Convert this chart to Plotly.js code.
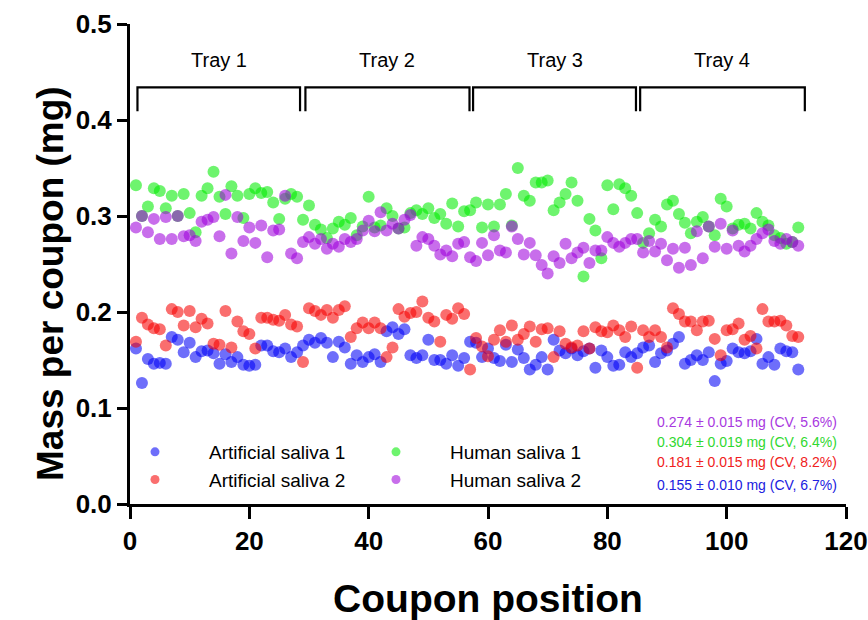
<!DOCTYPE html>
<html><head><meta charset="utf-8">
<script src="https://cdn.plot.ly/plotly-3.0.1.min.js"></script>
<style>html,body{margin:0;padding:0;background:#fff}#chart{width:868px;height:620px}</style>
</head><body><div id="chart"></div>
<script>
const position = [1,2,3,4,5,6,7,8,9,10,11,12,13,14,15,16,17,18,19,20,21,22,23,24,25,26,27,28,
29,30,31,32,33,34,35,36,37,38,39,40,41,42,43,44,45,46,47,48,49,50,51,52,53,54,55,56,
57,58,59,60,61,62,63,64,65,66,67,68,69,70,71,72,73,74,75,76,77,78,79,80,81,82,83,84,
85,86,87,88,89,90,91,92,93,94,95,96,97,98,99,100,101,102,103,104,105,106,107,108,109,110,111,112];

const artificialSaliva1 = [0.162,0.126,0.151,0.146,0.147,0.146,0.174,0.171,0.158,0.168,0.153,0.159,0.160,0.157,0.146,0.156,0.148,0.153,0.145,0.144,0.145,0.165,0.165,0.159,0.158,0.162,0.153,0.158,
0.165,0.171,0.168,0.173,0.168,0.153,0.169,0.163,0.146,0.155,0.148,0.153,0.156,0.148,0.180,0.184,0.177,0.182,0.155,0.152,0.155,0.171,0.150,0.150,0.146,0.155,0.144,0.152,
0.169,0.168,0.153,0.162,0.152,0.149,0.166,0.148,0.161,0.152,0.140,0.145,0.153,0.140,0.171,0.160,0.157,0.162,0.155,0.159,0.162,0.142,0.160,0.153,0.144,0.145,0.158,0.153,
0.157,0.163,0.165,0.148,0.157,0.160,0.167,0.174,0.146,0.150,0.155,0.150,0.158,0.128,0.146,0.149,0.162,0.158,0.157,0.159,0.172,0.146,0.153,0.145,0.162,0.159,0.158,0.140];

const artificialSaliva2 = [0.169,0.194,0.187,0.183,0.182,0.165,0.203,0.200,0.186,0.201,0.184,0.193,0.188,0.167,0.166,0.201,0.163,0.190,0.180,0.177,0.162,0.194,0.194,0.192,0.191,0.197,0.187,0.185,
0.148,0.204,0.201,0.197,0.202,0.194,0.202,0.206,0.174,0.183,0.189,0.183,0.189,0.183,0.153,0.163,0.203,0.195,0.199,0.200,0.211,0.194,0.190,0.169,0.197,0.193,0.204,0.198,
0.140,0.173,0.164,0.154,0.171,0.181,0.169,0.186,0.171,0.177,0.185,0.169,0.182,0.183,0.153,0.180,0.167,0.163,0.165,0.180,0.162,0.184,0.180,0.179,0.186,0.181,0.174,0.185,
0.142,0.181,0.174,0.181,0.174,0.163,0.204,0.198,0.190,0.190,0.181,0.190,0.191,0.172,0.155,0.181,0.182,0.188,0.171,0.175,0.162,0.203,0.190,0.190,0.191,0.186,0.175,0.174];

const humanSaliva1 = [0.332,0.300,0.310,0.329,0.326,0.308,0.321,0.300,0.323,0.303,0.283,0.321,0.329,0.346,0.320,0.302,0.331,0.321,0.298,0.323,0.329,0.324,0.325,0.314,0.297,0.318,0.323,0.320,
0.296,0.311,0.291,0.286,0.277,0.287,0.294,0.291,0.298,0.280,0.289,0.320,0.288,0.290,0.308,0.300,0.287,0.288,0.303,0.306,0.302,0.308,0.298,0.302,0.292,0.313,0.289,0.305,
0.306,0.314,0.288,0.312,0.289,0.312,0.323,0.290,0.350,0.321,0.316,0.335,0.335,0.337,0.306,0.314,0.323,0.335,0.316,0.237,0.297,0.285,0.256,0.332,0.307,0.333,0.329,0.321,
0.303,0.272,0.282,0.296,0.289,0.312,0.316,0.302,0.293,0.282,0.294,0.299,0.289,0.280,0.318,0.310,0.287,0.291,0.292,0.287,0.303,0.294,0.290,0.280,0.277,0.271,0.273,0.288];

const humanSaliva2 = [0.288,0.300,0.283,0.297,0.276,0.299,0.276,0.300,0.279,0.280,0.274,0.294,0.296,0.299,0.279,0.322,0.261,0.299,0.274,0.288,0.272,0.290,0.257,0.285,0.286,0.321,0.261,0.256,
0.273,0.278,0.271,0.276,0.266,0.271,0.268,0.276,0.273,0.276,0.285,0.295,0.284,0.304,0.285,0.292,0.287,0.296,0.301,0.269,0.278,0.276,0.269,0.260,0.264,0.258,0.271,0.273,
0.257,0.253,0.272,0.259,0.280,0.264,0.262,0.289,0.276,0.260,0.272,0.259,0.249,0.240,0.258,0.251,0.271,0.256,0.262,0.267,0.251,0.264,0.264,0.278,0.272,0.268,0.272,0.276,
0.276,0.262,0.274,0.263,0.271,0.254,0.266,0.246,0.267,0.249,0.284,0.256,0.289,0.268,0.292,0.266,0.285,0.269,0.263,0.269,0.276,0.282,0.286,0.274,0.271,0.276,0.273,0.269];

const seriesNames = ['Artificial saliva 1','Artificial saliva 2','Human saliva 1','Human saliva 2'];
const summaryTexts = ['0.274 \u00b1 0.015 mg (CV, 5.6%)','0.304 \u00b1 0.019 mg (CV, 6.4%)','0.181 \u00b1 0.015 mg (CV, 8.2%)','0.155 \u00b1 0.010 mg (CV, 6.7%)'];
const trayLabels = ['Tray 1','Tray 2','Tray 3','Tray 4'];
const trayStart = [1.25, 29.4, 57.5, 85.5];
const trayEnd = [28.5, 56.9, 84.8, 113.1];
const xTicks = [0,20,40,60,80,100,120];
const yTicks = [0,0.1,0.2,0.3,0.4,0.5];
const xTitle = 'Coupon position';
const yTitle = 'Mass per coupon (mg)';

const FONT = 'Liberation Sans, Arial, Helvetica, sans-serif';
const colors = ['rgba(0,0,246,0.57)','rgba(246,0,0,0.57)','rgba(0,235,0,0.57)','rgba(158,0,220,0.57)'];
const textColors = ['#a838e0','#30d830','#f02020','#2020e0'];
const seriesData = [artificialSaliva1, artificialSaliva2, humanSaliva1, humanSaliva2];

const traces = [];
seriesData.forEach((ys, i) => {
  traces.push({type:'scatter', mode:'markers', x: position, y: ys, name: seriesNames[i],
    showlegend:false, marker:{size:12, color:colors[i], line:{width:0}}, hoverinfo:'x+y+name'});
});
seriesData.forEach((ys, i) => {
  traces.push({type:'scatter', mode:'markers', x:[null], y:[null], name: seriesNames[i],
    showlegend:true, legend: i < 2 ? 'legend' : 'legend2',
    marker:{size:9, color:colors[i], line:{width:0}}});
});

const shapes = trayStart.map((s, i) => ({
  type:'path', xref:'x', yref:'y',
  path:`M ${s},0.409 L ${s},0.434 L ${trayEnd[i]},0.434 L ${trayEnd[i]},0.409`,
  line:{color:'black', width:2.2}
}));

const annotations = [];
trayLabels.forEach((t, i) => {
  annotations.push({x:(trayStart[i]+trayEnd[i])/2, y:0.462, xref:'x', yref:'y', text:t, showarrow:false,
    font:{family:FONT, size:20, color:'black'}, xanchor:'center', yanchor:'middle'});
});
const summaryY = [0.0855, 0.0645, 0.0437, 0.0198];
summaryTexts.forEach((t, i) => {
  annotations.push({x:0.99, y:summaryY[i], xref:'paper', yref:'y', text:t, showarrow:false,
    font:{family:FONT, size:14, color:textColors[i]}, xanchor:'right', yanchor:'middle'});
});
annotations.push({x:-0.112, y:0.46, xref:'paper', yref:'paper', text:yTitle, textangle:-90, showarrow:false,
  font:{family:FONT, size:37, color:'black', weight:'bold'}, xanchor:'center', yanchor:'middle'});

const legendBase = {orientation:'v', xref:'container', yref:'container', xanchor:'left', yanchor:'top',
  itemwidth:98, font:{family:FONT, size:19, color:'black'}, bgcolor:'rgba(0,0,0,0)', borderwidth:0,
  tracegroupgap:0, itemclick:false, itemdoubleclick:false};

const layout = {
  width:868, height:620,
  margin:{l:130, r:22, t:24, b:116, autoexpand:false},
  paper_bgcolor:'white', plot_bgcolor:'white',
  showlegend:true,
  legend: Object.assign({}, legendBase, {x:101/868, y:1-433/620}),
  legend2: Object.assign({}, legendBase, {x:342/868, y:1-433/620}),
  xaxis:{range:[0,120], tickvals:xTicks, ticktext:xTicks.map(String), showgrid:false, zeroline:false,
    showline:true, linecolor:'black', linewidth:3, ticks:'outside', ticklen:12, tickwidth:3, tickcolor:'black',
    tickfont:{family:FONT, size:26, color:'black', weight:'bold'},
    title:{text:xTitle, font:{family:FONT, size:39, color:'black', weight:'bold'}, standoff:30}},
  yaxis:{range:[0,0.5], tickvals:yTicks, ticktext:yTicks.map(v=>v.toFixed(1)), showgrid:false, zeroline:false,
    showline:true, linecolor:'black', linewidth:3, ticks:'outside', ticklen:10, tickwidth:3, tickcolor:'black',
    tickfont:{family:FONT, size:26, color:'black', weight:'bold'}},
  shapes: shapes,
  annotations: annotations
};

Plotly.newPlot('chart', traces, layout, {displayModeBar:false, responsive:false});
</script>
</body></html>
